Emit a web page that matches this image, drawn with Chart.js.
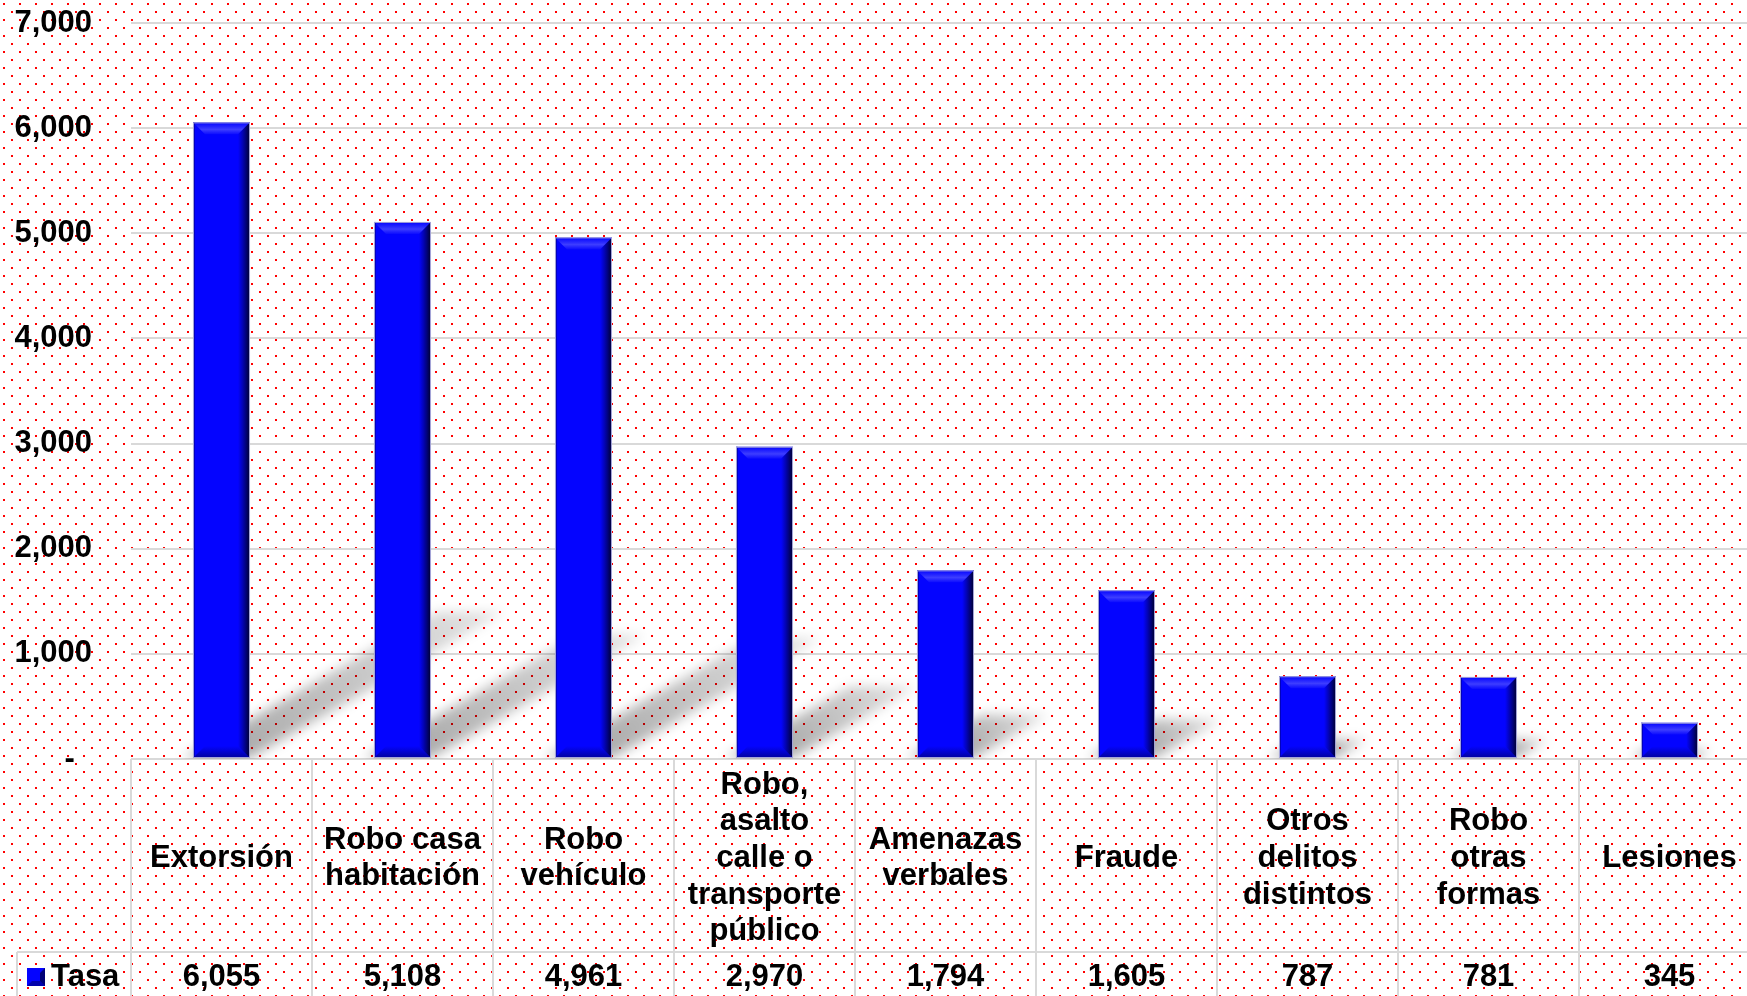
<!DOCTYPE html>
<html>
<head>
<meta charset="utf-8">
<title>Tasa por delito</title>
<script src="https://cdn.jsdelivr.net/npm/chart.js@4.4.1/dist/chart.umd.min.js"></script>
<style>
    html, body { margin: 0; padding: 0; overflow: hidden; background: #fff; }
    #wrap { width: 1760px; height: 996px; }
</style>
</head>
<body>
<div id="wrap"><canvas id="chart" width="1760" height="996"></canvas></div>
<script>
// chart data
const categories = [
    ['Extorsión'],
    ['Robo casa', 'habitación'],
    ['Robo', 'vehículo'],
    ['Robo,', 'asalto', 'calle o', 'transporte', 'público'],
    ['Amenazas', 'verbales'],
    ['Fraude'],
    ['Otros', 'delitos', 'distintos'],
    ['Robo', 'otras', 'formas'],
    ['Lesiones']
];
const seriesName = 'Tasa';
const tasaValues = [6055, 5108, 4961, 2970, 1794, 1605, 787, 781, 345];
const yTicks = [0, 1000, 2000, 3000, 4000, 5000, 6000, 7000];

const FONT = "'Liberation Sans', Arial, sans-serif";
const GRID = '#d9d9d9';

function fmt(v) {
    return v === 0 ? '-  ' : v.toLocaleString('en-US');
}

// red dotted background over the whole picture
const dotBackground = {
    id: 'dotBackground',
    beforeDraw(chart) {
        const ctx = chart.ctx;
        const tile = document.createElement('canvas');
        tile.width = 16;
        tile.height = 16;
        const t = tile.getContext('2d');
        t.fillStyle = '#ff0000';
        t.fillRect(3, 3, 2, 2);
        t.fillRect(11, 11, 2, 2);
        ctx.save();
        ctx.fillStyle = '#ffffff';
        ctx.fillRect(0, 0, chart.width, chart.height);
        ctx.fillStyle = ctx.createPattern(tile, 'repeat');
        ctx.fillRect(0, 0, chart.width, chart.height);
        ctx.restore();
    }
};

// soft diagonal shadows cast by the bars
const barShadows = {
    id: 'barShadows',
    beforeDatasetsDraw(chart) {
        const ctx = chart.ctx;
        const area = chart.chartArea;
        ctx.save();
        ctx.beginPath();
        ctx.rect(area.left, area.top, area.right - area.left, area.bottom - area.top);
        ctx.clip();
        ctx.filter = 'blur(6px)';
        chart.getDatasetMeta(0).data.forEach(bar => {
            const p = bar.getProps(['x', 'y', 'base', 'width'], true);
            const h = p.base - p.y;
            const L = p.x - p.width / 2 - 10;
            const R = p.x + p.width / 2;
            const dx = h * 0.40, dy = h * 0.23;
            const g = ctx.createLinearGradient(R, p.base, R + dx, p.base - dy);
            g.addColorStop(0, 'rgba(0,0,0,0.32)');
            g.addColorStop(1, 'rgba(0,0,0,0.10)');
            ctx.fillStyle = g;
            ctx.beginPath();
            ctx.moveTo(L, p.base);
            ctx.lineTo(R, p.base);
            ctx.lineTo(R + dx, p.base - dy);
            ctx.lineTo(L + dx, p.base - dy);
            ctx.closePath();
            ctx.fill();
        });
        ctx.restore();
    }
};

function bevelBox(ctx, L, T, R, B) {
    const b = Math.min(12, (B - T) / 3);
    let g;
    // top highlight
    g = ctx.createLinearGradient(0, T, 0, T + b);
    g.addColorStop(0, 'rgba(90,90,255,0)');
    g.addColorStop(0.6, 'rgba(100,100,255,0.6)');
    g.addColorStop(1, 'rgba(90,90,255,0.1)');
    ctx.fillStyle = g;
    ctx.beginPath();
    ctx.moveTo(L, T); ctx.lineTo(R, T); ctx.lineTo(R - b, T + b); ctx.lineTo(L + b, T + b);
    ctx.closePath(); ctx.fill();
    // bottom shade
    g = ctx.createLinearGradient(0, B - b, 0, B);
    g.addColorStop(0, 'rgba(0,0,100,0)');
    g.addColorStop(1, 'rgba(0,0,90,0.6)');
    ctx.fillStyle = g;
    ctx.beginPath();
    ctx.moveTo(L, B); ctx.lineTo(R, B); ctx.lineTo(R - b, B - b); ctx.lineTo(L + b, B - b);
    ctx.closePath(); ctx.fill();
    // right dark edge
    g = ctx.createLinearGradient(R - b, 0, R, 0);
    g.addColorStop(0, 'rgba(0,0,60,0)');
    g.addColorStop(1, 'rgba(0,0,30,0.95)');
    ctx.fillStyle = g;
    ctx.beginPath();
    ctx.moveTo(R, T); ctx.lineTo(R, B); ctx.lineTo(R - b, B - b); ctx.lineTo(R - b, T + b);
    ctx.closePath(); ctx.fill();
    // left edge
    ctx.fillStyle = 'rgba(0,0,110,0.45)';
    ctx.fillRect(L, T, 2, B - T);
    // outline
    ctx.strokeStyle = '#a4a4d8';
    ctx.lineWidth = 1;
    ctx.strokeRect(L + 0.5, T + 0.5, R - L - 1, B - T - 1);
}

const barBevel = {
    id: 'barBevel',
    afterDatasetsDraw(chart) {
        const ctx = chart.ctx;
        ctx.save();
        chart.getDatasetMeta(0).data.forEach(bar => {
            const p = bar.getProps(['x', 'y', 'base', 'width'], true);
            bevelBox(ctx, p.x - p.width / 2, p.y, p.x + p.width / 2, p.base);
        });
        ctx.restore();
    }
};

// data table under the plot: category names, then the values row
const dataTable = {
    id: 'dataTable',
    afterDraw(chart) {
        const ctx = chart.ctx;
        const xs = chart.scales.x;
        const area = chart.chartArea;
        const n = categories.length;
        const cw = xs.width / n;
        const headTop = area.bottom;
        const headBottom = headTop + 193;
        const rowMid = headBottom + 25;
        const lh = 36.7;

        ctx.save();
        ctx.strokeStyle = GRID;
        ctx.lineWidth = 2;
        ctx.beginPath();
        for (let i = 0; i <= n; i++) {
            const gx = Math.round(xs.left + i * cw);
            ctx.moveTo(gx, headTop);
            ctx.lineTo(gx, chart.height);
        }
        ctx.moveTo(17, headBottom);
        ctx.lineTo(chart.width, headBottom);
        ctx.moveTo(17, headBottom);
        ctx.lineTo(17, chart.height);
        ctx.stroke();

        ctx.fillStyle = '#000';
        ctx.font = 'bold 31px ' + FONT;
        ctx.textAlign = 'center';
        ctx.textBaseline = 'middle';
        const mid = (headTop + headBottom) / 2 + 3;
        categories.forEach((lines, i) => {
            const cx = xs.getPixelForValue(i);
            lines.forEach((line, j) => {
                ctx.fillText(line, cx, mid + (j - (lines.length - 1) / 2) * lh);
            });
            ctx.fillText(tasaValues[i].toLocaleString('en-US'), cx, rowMid);
        });

        // legend key
        bevelBoxKey(ctx, 27, rowMid - 9, 45, rowMid + 9);
        ctx.fillStyle = '#000';
        ctx.textAlign = 'left';
        ctx.fillText(seriesName, 51, rowMid);
        ctx.restore();
    }
};

function bevelBoxKey(ctx, L, T, R, B) {
    ctx.fillStyle = '#0404ff';
    ctx.fillRect(L, T, R - L, B - T);
    const b = 5;
    ctx.fillStyle = 'rgba(0,0,60,0.7)';
    ctx.beginPath();
    ctx.moveTo(R, T); ctx.lineTo(R, B); ctx.lineTo(R - b, B - b); ctx.lineTo(R - b, T + b);
    ctx.closePath(); ctx.fill();
    ctx.fillStyle = 'rgba(0,0,90,0.5)';
    ctx.beginPath();
    ctx.moveTo(L, B); ctx.lineTo(R, B); ctx.lineTo(R - b, B - b); ctx.lineTo(L + b, B - b);
    ctx.closePath(); ctx.fill();
}

Chart.defaults.font.family = FONT;

new Chart(document.getElementById('chart'), {
    type: 'bar',
    data: {
        labels: categories,
        datasets: [{
            label: seriesName,
            data: tasaValues,
            backgroundColor: '#0404ff',
            borderWidth: 0,
            barPercentage: 0.315,
            categoryPercentage: 1
        }]
    },
    options: {
        responsive: false,
        animation: false,
        devicePixelRatio: 1,
        layout: {
            padding: { top: 23, right: 0, bottom: 237, left: 0 }
        },
        plugins: {
            legend: { display: false },
            tooltip: { enabled: false }
        },
        scales: {
            x: {
                type: 'category',
                offset: true,
                display: false
            },
            y: {
                min: 0,
                max: 7000,
                afterBuildTicks: function(scale) {
                    scale.ticks = yTicks.map(v => ({ value: v }));
                },
                afterFit: function(scale) {
                    // fixed axis width, and no extra room above/below for the labels
                    scale.width = 131;
                    scale.paddingTop = 0;
                    scale.paddingBottom = 0;
                },
                border: { display: false },
                grid: {
                    color: GRID,
                    lineWidth: 2,
                    drawTicks: false
                },
                ticks: {
                    padding: 39,
                    color: '#000',
                    font: { size: 31, weight: 'bold' },
                    callback: function(value) {
                        return fmt(value);
                    }
                }
            }
        }
    },
    plugins: [dotBackground, barShadows, barBevel, dataTable]
});
</script>
</body>
</html>
